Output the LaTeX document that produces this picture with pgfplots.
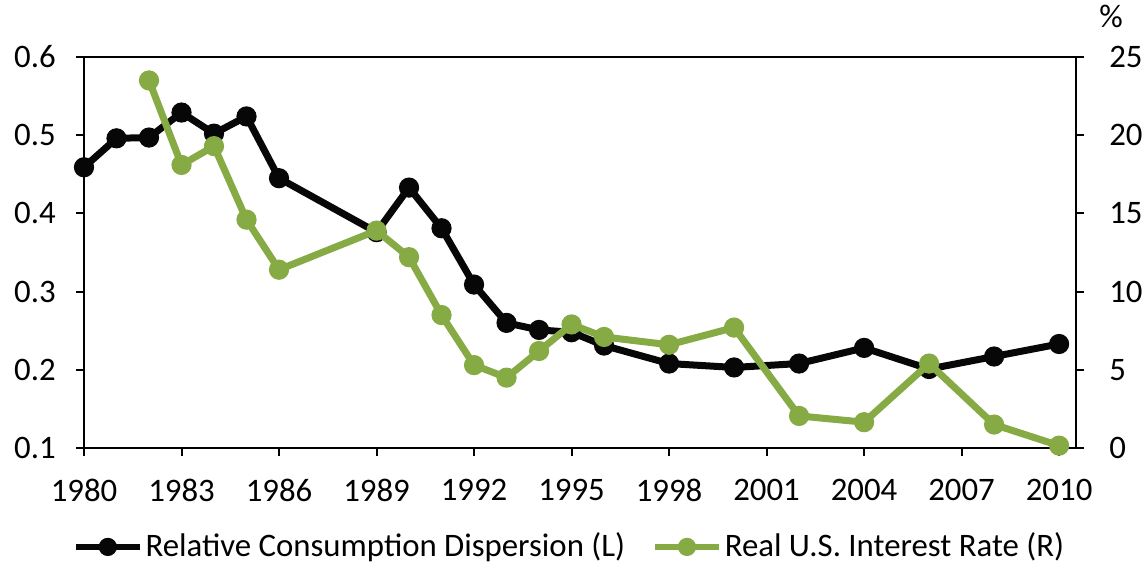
\documentclass[border=0pt]{standalone}
\usepackage{fontspec}
\setmainfont{Carlito}
\usepackage{pgfplots}
\pgfplotsset{compat=1.18}
\definecolor{cblack}{RGB}{7,7,7}
\definecolor{cgreen}{RGB}{134,171,69}
\begin{document}
\fontsize{16.4}{19}\selectfont
\begin{tikzpicture}
\pgfplotsset{
  common/.style={
    scale only axis, width=496pt, height=195.5pt,
    xmin=1980, xmax=2010.52,
    /pgf/number format/assume math mode=true,
    tick style={line width=1pt, black},
    axis line style={line width=1pt, black},
    tick label style={font=\fontsize{16.4}{19}\selectfont},
    tick align=outside, major tick length=4pt,
    clip=false,
  }
}
\begin{axis}[common, name=a,
  ymin=0.1, ymax=0.6, ytick={0.1,0.2,0.3,0.4,0.5,0.6},
  xtick={1980,1983,1986,1989,1992,1995,1998,2001,2004,2007,2010},
  xticklabel style={/pgf/number format/1000 sep={}, yshift=-6pt},
  yticklabel style={/pgf/number format/fixed, /pgf/number format/fixed zerofill, /pgf/number format/precision=1, xshift=-4.5pt},
  ytick pos=left, xtick pos=bottom,
]
\addplot[cblack, line width=3.5pt, mark=*, mark size=4.8pt, mark options={line width=0.5pt}] coordinates {
(1980,0.459) (1981,0.496) (1982,0.497) (1983,0.529) (1984,0.502) (1985,0.524)
(1986,0.445) (1989,0.376) (1990,0.433) (1991,0.381) (1992,0.309) (1993,0.260)
(1994,0.251) (1995,0.248) (1996,0.231) (1998,0.208) (2000,0.203) (2002,0.208)
(2004,0.228) (2006,0.201) (2008,0.217) (2010,0.233)
};
\end{axis}
\begin{axis}[common, axis y line*=right, axis x line=none,
  ymin=0, ymax=25, ytick={0,5,10,15,20,25},
  yticklabel style={xshift=7pt},
  legend style={at={(0.49,-0.253)}, anchor=center, draw=none, fill=none, legend columns=2,
    /tikz/every even column/.append style={column sep=12pt}, font=\fontsize{16.4}{19}\selectfont,
    inner sep=0pt, nodes={inner sep=1.5pt}},
  legend image code/.code={\draw[mark repeat=2,mark phase=2,#1] plot coordinates {(0pt,0pt) (16pt,0pt) (32pt,0pt)};},
]
\addlegendimage{cblack, line width=2.8pt, mark=*, mark size=4.3pt, mark options={line width=0.5pt}}
\addlegendentry{Relative Consumption Dispersion (L)}
\addplot[cgreen, line width=3.5pt, mark=*, mark size=4.8pt, mark options={line width=0.5pt}, forget plot] coordinates {
(1982,23.5) (1983,18.1) (1984,19.3) (1985,14.6) (1986,11.4) (1989,13.9) (1990,12.2)
(1991,8.5) (1992,5.3) (1993,4.5) (1994,6.2) (1995,7.9) (1996,7.1) (1998,6.6)
(2000,7.7) (2002,2.05) (2004,1.65) (2006,5.4) (2008,1.5) (2010,0.15)
};
\addlegendimage{cgreen, line width=2.8pt, mark=*, mark size=4.3pt, mark options={line width=0.5pt}}
\addlegendentry{Real U.S. Interest Rate (R)}
\node[anchor=south] at (rel axis cs:1,1) [xshift=17.5pt, yshift=9pt] {\%};
\end{axis}
\pgfresetboundingbox
\path ([xshift=-42pt, yshift=-59.5pt]a.south west) rectangle ++(573pt,283.5pt);
\end{tikzpicture}
\end{document}
